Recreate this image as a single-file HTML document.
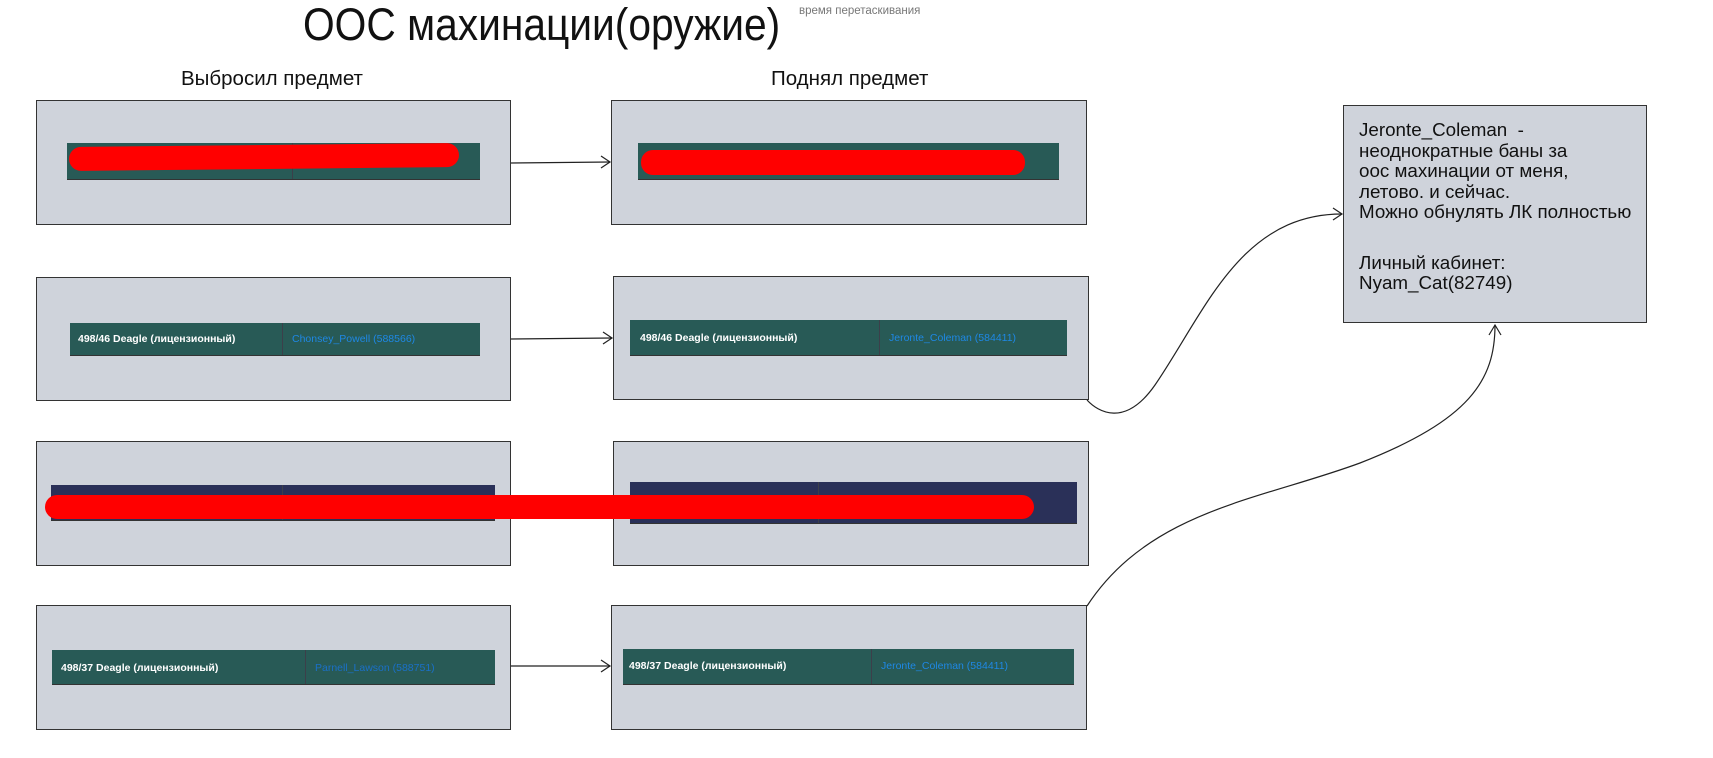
<!DOCTYPE html>
<html><head><meta charset="utf-8"><style>
html,body{margin:0;padding:0;background:#fff;}
body{width:1713px;height:758px;position:relative;overflow:hidden;font-family:"Liberation Sans","Noto Sans CJK SC",sans-serif;}
.box{position:absolute;background:#cfd3db;border:1px solid #333;box-sizing:border-box;}
.bar{position:absolute;background:#285a56;box-sizing:border-box;border-bottom:1px solid #333;}
.navy{background:#2a3058;}
.div{position:absolute;top:0;bottom:0;width:1px;background:#3c3f4a;}
.t1{position:absolute;color:#fff;font-weight:bold;font-size:10.5px;}
.t2{position:absolute;color:#1e88e5;font-size:10.5px;}
.red{position:absolute;background:#ff0000;border-radius:12px;}
.lbl{position:absolute;font-size:20.5px;color:#111;}
</style></head><body>
<div style="position:absolute;left:303px;top:-1px;font-size:45px;color:#111;transform:scaleX(0.905);transform-origin:left;">ООС махинации(оружие)</div>
<div style="position:absolute;left:799px;top:5px;font-size:11.5px;color:#777;">время перетаскивания</div>
<div class="lbl" style="left:181px;top:67px;">Выбросил предмет</div>
<div class="lbl" style="left:771px;top:67px;">Поднял предмет</div>

<div class="box" style="left:36px;top:100px;width:475px;height:125px;"></div>
<div class="box" style="left:611px;top:100px;width:476px;height:125px;"></div>
<div class="box" style="left:36px;top:277px;width:475px;height:124px;"></div>
<div class="box" style="left:613px;top:276px;width:476px;height:124px;"></div>
<div class="box" style="left:36px;top:441px;width:475px;height:125px;"></div>
<div class="box" style="left:613px;top:441px;width:476px;height:125px;"></div>
<div class="box" style="left:36px;top:605px;width:475px;height:125px;"></div>
<div class="box" style="left:611px;top:605px;width:476px;height:125px;"></div>
<div class="box" style="left:1343px;top:105px;width:304px;height:218px;"></div>

<!-- row1 -->
<div class="bar" style="left:67px;top:143px;width:413px;height:37px;"><div class="div" style="left:225px"></div></div>
<div class="red" style="left:69px;top:145px;width:390px;height:24px;transform:rotate(-0.6deg);"></div>
<div class="bar" style="left:638px;top:143px;width:421px;height:37px;"></div>
<div class="red" style="left:641px;top:150px;width:384px;height:25px;"></div>
<!-- row2 -->
<div class="bar" style="left:70px;top:323px;width:410px;height:33px;"><div class="div" style="left:212px"></div><div class="t1" style="left:8px;top:10px;">498/46 Deagle (лицензионный)</div><div class="t2" style="left:222px;top:10px;">Chonsey_Powell (588566)</div></div>
<div class="bar" style="left:630px;top:320px;width:437px;height:36px;"><div class="div" style="left:249px"></div><div class="t1" style="left:10px;top:12px;">498/46 Deagle (лицензионный)</div><div class="t2" style="left:259px;top:12px;">Jeronte_Coleman (584411)</div></div>
<!-- row3 -->
<div class="bar navy" style="left:51px;top:485px;width:444px;height:36px;"><div class="div" style="left:231px"></div></div>
<div class="bar navy" style="left:630px;top:482px;width:447px;height:42px;"><div class="div" style="left:188px"></div></div>
<div class="red" style="left:45px;top:495px;width:989px;height:24px;"></div>
<!-- row4 -->
<div class="bar" style="left:52px;top:650px;width:443px;height:35px;"><div class="div" style="left:253px"></div><div class="t1" style="left:9px;top:12px;">498/37 Deagle (лицензионный)</div><div class="t2" style="left:263px;top:12px;color:#1a70c8;">Parnell_Lawson (588751)</div></div>
<div class="bar" style="left:623px;top:649px;width:451px;height:36px;"><div class="div" style="left:248px"></div><div class="t1" style="left:6px;top:11px;">498/37 Deagle (лицензионный)</div><div class="t2" style="left:258px;top:11px;">Jeronte_Coleman (584411)</div></div>

<div style="position:absolute;left:1359px;top:120px;font-size:18.8px;line-height:20.5px;color:#111;">Jeronte_Coleman&nbsp; -<br>неоднократные баны за<br>оос махинации от меня,<br>летово. и сейчас.<br>Можно обнулять ЛК полностью<div style="height:30px"></div>Личный кабинет:<br>Nyam_Cat(82749)</div>

<svg width="1713" height="758" style="position:absolute;left:0;top:0" fill="none" stroke="#222" stroke-width="1.2">
<path d="M511,163 L610,162"/><path d="M601,156 L610,162 L601,168"/>
<path d="M511,339 L612,338"/><path d="M603,332 L612,338 L603,344"/>
<path d="M511,666 L610,666"/><path d="M601,660 L610,666 L601,672"/>
<path d="M1087,400 C1098,412 1125,428 1155,385 C1205,312 1240,214 1342,214"/>
<path d="M1333,208 L1342,214 L1333,220"/>
<path d="M1087,606 C1150,510 1260,500 1360,463 C1470,420 1495,380 1495,325"/>
<path d="M1489,335 L1495,325 L1501,335"/>
</svg>
</body></html>
